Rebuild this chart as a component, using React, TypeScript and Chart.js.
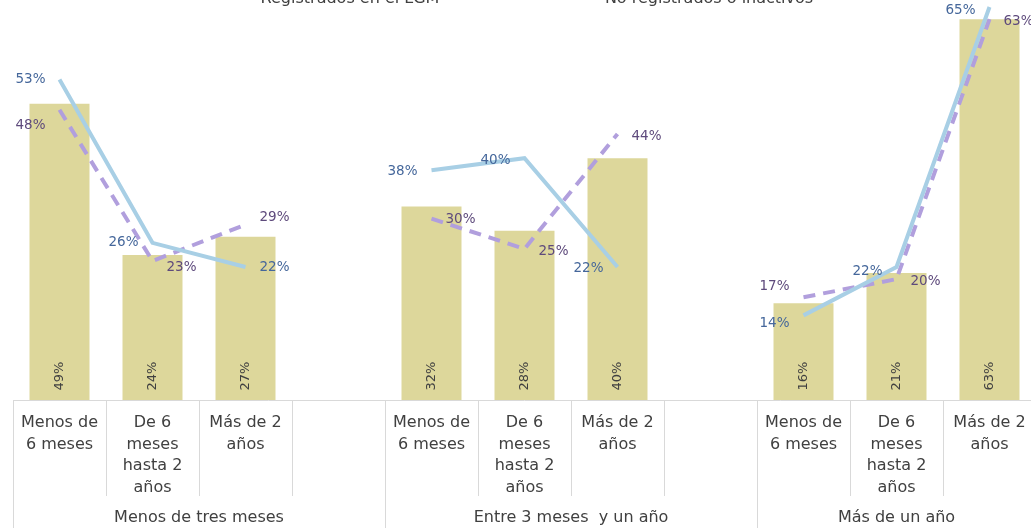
import React, { useEffect, useRef } from 'react';
import { Chart, registerables } from 'chart.js';

Chart.register(...registerables);

// ---- data ----
const groups = ['Menos de tres meses', 'Entre 3 meses  y un año', 'Más de un año'];
const subCategories: string[][] = [
  ['Menos de', '6 meses'],
  ['De 6', 'meses', 'hasta 2', 'años'],
  ['Más de 2', 'años'],
];
const seriesNames = ['Total', 'Registrados en el LGM', 'No registrados o inactivos'];
const totalValues = [49, 24, 27, null, 32, 28, 40, null, 16, 21, 63];
const registeredValues = [53, 26, 22, null, 38, 40, 22, null, 14, 22, 65];
const unregisteredValues = [48, 23, 29, null, 30, 25, 44, null, 17, 20, 63];

// ---- label placement (style) ----
const registeredAlign = ['left', 'left', 'right', null, 'left', 'left', 'left', null, 'left', 'left', 'left'];
const registeredDy = [0, 0, 0, 0, 1, 2, 1, 0, 8, 4, 3];
const unregisteredAlign = ['left', 'right', 'right', null, 'right', 'right', 'right', null, 'left', 'right', 'right'];
const unregisteredDy = [16, 7, -7, 0, 1, 3, 2, 0, -11, 2, 2];

// build slot list: 3 subcategories per group, an empty slot between groups
const slotLabels: string[][] = [];
const slotGroup: number[] = [];
groups.forEach((g, gi) => {
  subCategories.forEach((s) => {
    slotLabels.push(s);
    slotGroup.push(gi);
  });
  if (gi < groups.length - 1) {
    slotLabels.push([]);
    slotGroup.push(gi);
  }
});
const categories = slotLabels.map((l) => l.join(' '));

const FONT = '"DejaVu Sans", sans-serif';
const TEXT = '#404040';
const GRID = '#d9d9d9';
const BAR = '#DDD79B';
const BLUE = '#A8CFE5';
const PURPLE = '#B19FDD';
const BLUE_TXT = '#45679B';
const PURPLE_TXT = '#5E4A7C';

const overlay = {
  id: 'overlay',
  afterDatasetsDraw(chart: any) {
    const { ctx, chartArea: a, scales } = chart;
    const x = scales.x;
    const slot = x.getPixelForValue(1) - x.getPixelForValue(0);
    const H = chart.height;
    ctx.save();

    // category axis frame
    ctx.strokeStyle = GRID;
    ctx.lineWidth = 1;
    ctx.beginPath();
    ctx.moveTo(a.left, a.bottom + 0.5);
    ctx.lineTo(a.right, a.bottom + 0.5);
    for (let k = 0; k <= slotLabels.length; k++) {
      const bx = Math.round(x.getPixelForValue(0) - slot / 2 + k * slot) + 0.5;
      const isGroupEdge = k === 0 || k === slotLabels.length || slotGroup[k] !== slotGroup[k - 1];
      ctx.moveTo(bx, a.bottom);
      ctx.lineTo(bx, isGroupEdge ? H : a.bottom + 96);
    }
    ctx.stroke();

    // subcategory labels
    ctx.fillStyle = TEXT;
    ctx.font = `16px ${FONT}`;
    ctx.textAlign = 'center';
    ctx.textBaseline = 'middle';
    slotLabels.forEach((lines, i) => {
      const cx = x.getPixelForValue(i);
      lines.forEach((ln, j) => ctx.fillText(ln, cx, a.bottom + 23 + j * 21.5));
    });

    // group labels
    groups.forEach((g, gi) => {
      const idx = slotGroup.map((v, i) => (v === gi ? i : -1)).filter((i) => i >= 0);
      const left = x.getPixelForValue(idx[0]) - slot / 2;
      const right = x.getPixelForValue(idx[idx.length - 1]) + slot / 2;
      ctx.fillText(g, (left + right) / 2, a.bottom + 118);
    });

    // bar value labels (rotated)
    const barMeta = chart.getDatasetMeta(0);
    ctx.font = `13px ${FONT}`;
    barMeta.data.forEach((el: any, i: number) => {
      const v = totalValues[i];
      if (v == null) return;
      ctx.save();
      ctx.translate(el.x, a.bottom - 24);
      ctx.rotate(-Math.PI / 2);
      ctx.fillStyle = TEXT;
      ctx.fillText(`${v}%`, 0, 0);
      ctx.restore();
    });

    // line value labels
    const drawLineLabels = (di: number, vals: (number | null)[], align: (string | null)[], dy: number[], color: string) => {
      const meta = chart.getDatasetMeta(di);
      ctx.fillStyle = color;
      ctx.font = `13.5px ${FONT}`;
      ctx.textBaseline = 'middle';
      meta.data.forEach((el: any, i: number) => {
        const v = vals[i];
        if (v == null || !align[i]) return;
        if (align[i] === 'left') {
          ctx.textAlign = 'right';
          ctx.fillText(`${v}%`, el.x - 14, el.y + dy[i]);
        } else {
          ctx.textAlign = 'left';
          ctx.fillText(`${v}%`, el.x + 14, el.y + dy[i]);
        }
      });
    };
    drawLineLabels(1, registeredValues, registeredAlign, registeredDy, BLUE_TXT);
    drawLineLabels(2, unregisteredValues, unregisteredAlign, unregisteredDy, PURPLE_TXT);

    // legend (partly outside the top of the picture)
    ctx.fillStyle = TEXT;
    ctx.font = `16px ${FONT}`;
    ctx.textAlign = 'center';
    ctx.textBaseline = 'alphabetic';
    ctx.fillText(seriesNames[1], 350, 3);
    ctx.fillText(seriesNames[2], 709, 3);

    ctx.restore();
  },
};

export default function App() {
  const ref = useRef<HTMLCanvasElement>(null);
  useEffect(() => {
    if (!ref.current) return;
    const chart = new Chart(ref.current, {
      type: 'bar',
      data: {
        labels: categories,
        datasets: [
          {
            type: 'bar',
            label: seriesNames[0],
            data: totalValues as any,
            backgroundColor: BAR,
            barPercentage: 0.645,
            categoryPercentage: 1,
            order: 3,
          },
          {
            type: 'line',
            label: seriesNames[1],
            data: registeredValues as any,
            borderColor: BLUE,
            borderWidth: 4,
            pointRadius: 0,
            tension: 0,
            spanGaps: false,
            order: 1,
          },
          {
            type: 'line',
            label: seriesNames[2],
            data: unregisteredValues as any,
            borderColor: PURPLE,
            borderWidth: 4,
            borderDash: [12, 8],
            pointRadius: 0,
            tension: 0,
            spanGaps: false,
            order: 2,
          },
        ],
      } as any,
      options: {
        responsive: false,
        animation: false,
        layout: { padding: { left: 13, right: 4, top: 1, bottom: 128 } },
        plugins: { legend: { display: false }, tooltip: { enabled: false } },
        scales: {
          x: { display: false, offset: true },
          y: { display: false, min: 0, max: 66 },
        },
      },
      plugins: [overlay],
    });
    return () => chart.destroy();
  }, []);
  return (
    <div style={{ position: 'fixed', left: 0, top: 0, width: 1031, height: 528, overflow: 'hidden', background: '#fff' }}>
      <canvas ref={ref} width={1040} height={528} style={{ display: 'block' }} />
    </div>
  );
}
